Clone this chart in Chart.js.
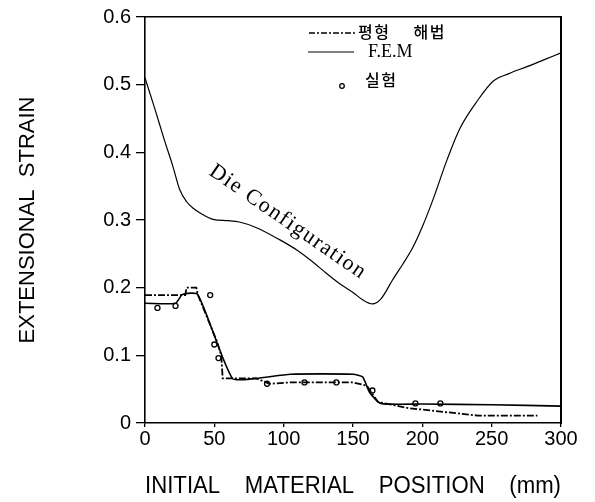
<!DOCTYPE html>
<html>
<head>
<meta charset="utf-8">
<script src="https://cdn.jsdelivr.net/npm/chart.js@4/dist/chart.umd.min.js"></script>
<style>
  html, body { margin: 0; padding: 0; background: #fff; }
  #wrap { width: 595px; height: 502px; }
</style>
</head>
<body>
<div id="wrap"><canvas id="c" width="595" height="502"></canvas></div>
<script>
// die profile (thin solid line)
const dieX = [0, 7, 14, 20, 25, 30, 35, 40, 49, 60, 68, 80, 97, 110, 121, 131, 141, 150, 157, 164, 170, 179, 186, 193, 200, 208, 218, 227, 240, 251, 262, 276, 288, 300];
const dieY = [0.51, 0.465, 0.418, 0.38, 0.345, 0.327, 0.317, 0.31, 0.301, 0.299, 0.297, 0.289, 0.271, 0.255, 0.238, 0.221, 0.205, 0.193, 0.182, 0.176, 0.183, 0.213, 0.235, 0.259, 0.29, 0.332, 0.39, 0.435, 0.477, 0.505, 0.516, 0.527, 0.537, 0.547];

// 평형 해법 (dash-dot)
const eqX = [0, 29, 30, 37, 38, 52, 55, 56, 63, 80, 90, 105, 150, 160, 168, 190, 240, 283];
const eqY = [0.189, 0.189, 0.2, 0.2, 0.19, 0.12, 0.1, 0.066, 0.066, 0.066, 0.058, 0.06, 0.06, 0.055, 0.031, 0.022, 0.011, 0.011];

// F.E.M (solid)
const femX = [0, 22, 27, 38, 63, 80, 105, 150, 157, 162, 170, 200, 250, 300];
const femY = [0.177, 0.177, 0.19, 0.19, 0.066, 0.066, 0.072, 0.072, 0.068, 0.045, 0.029, 0.028, 0.027, 0.025];

// 실험 (open circles)
const expX = [9, 22, 47, 50, 53, 88, 115, 138, 164, 195, 213];
const expY = [0.17, 0.173, 0.189, 0.116, 0.096, 0.058, 0.06, 0.06, 0.048, 0.029, 0.029];

const xTicks = [0, 50, 100, 150, 200, 250, 300];
const yTicks = [0, 0.1, 0.2, 0.3, 0.4, 0.5, 0.6];

const legendNames = ['평형 해법', 'F.E.M', '실험'];

function pts(xs, ys) { return xs.map((x, i) => ({ x: x, y: ys[i] })); }

const overlay = {
  id: 'overlay',
  afterDatasetsDraw(chart) {
    const ctx = chart.ctx;
    const xs = chart.scales.x, ys = chart.scales.y;
    ctx.save();
    // legend
    ctx.strokeStyle = '#000';
    ctx.fillStyle = '#000';
    ctx.lineWidth = 1.6;
    ctx.setLineDash([6, 2, 2, 2]);
    ctx.beginPath(); ctx.moveTo(309, 33); ctx.lineTo(355, 33); ctx.stroke();
    ctx.setLineDash([]);
    ctx.lineWidth = 1.1;
    ctx.beginPath(); ctx.moveTo(308, 52); ctx.lineTo(354, 52); ctx.stroke();
    ctx.beginPath(); ctx.arc(342, 86, 2.3, 0, Math.PI * 2); ctx.lineWidth = 1.3; ctx.stroke();
    ctx.textBaseline = 'middle';
    ctx.font = '500 16px "Noto Sans CJK KR"';
    ctx.wordSpacing = '18px';
    ctx.letterSpacing = '1.5px';
    ctx.fillText(legendNames[0], 358, 32);
    ctx.fillText(legendNames[2], 365, 80);
    ctx.wordSpacing = '0px';
    ctx.letterSpacing = '0px';
    ctx.font = '18px "Liberation Serif"';
    ctx.fillText(legendNames[1], 368, 52);
    // die label
    ctx.translate(xs.getPixelForValue(103), ys.getPixelForValue(0.297));
    ctx.rotate(34.6 * Math.PI / 180);
    ctx.font = '22px "Liberation Serif"';
    ctx.letterSpacing = '1.5px';
    ctx.textAlign = 'center';
    ctx.fillText('Die Configuration', 0, 0);
    ctx.restore();
  }
};

new Chart(document.getElementById('c'), {
  type: 'scatter',
  data: {
    datasets: [
      { label: 'die', data: pts(dieX, dieY), showLine: true, borderColor: '#000', borderWidth: 1.2, pointRadius: 0, cubicInterpolationMode: 'monotone' },
      { label: legendNames[0], data: pts(eqX, eqY), showLine: true, borderColor: '#000', borderWidth: 1.8, borderDash: [7, 2, 2, 2], pointRadius: 0, tension: 0 },
      { label: legendNames[1], data: pts(femX, femY), showLine: true, borderColor: '#000', borderWidth: 1.6, pointRadius: 0, tension: 0.2 },
      { label: legendNames[2], data: pts(expX, expY), showLine: false, borderColor: '#000', backgroundColor: '#fff', borderWidth: 1.3, pointRadius: 2.5 }
    ]
  },
  options: {
    responsive: false,
    animation: false,
    layout: { padding: { top: 13, right: 34, left: 0, bottom: 0 } },
    plugins: { legend: { display: false }, tooltip: { enabled: false } },
    scales: {
      x: {
        type: 'linear', min: 0, max: 300,
        afterBuildTicks: (s) => { s.ticks = xTicks.map(v => ({ value: v })); },
        afterFit: (s) => { s.height = 79; },
        border: { color: '#000', width: 1.6 },
        grid: { drawOnChartArea: false, color: '#000', tickLength: 4, lineWidth: 1.3 },
        ticks: { color: '#000', font: { family: 'Liberation Sans', size: 20 }, padding: 0, maxRotation: 0 },
        title: { display: true, text: 'INITIAL    MATERIAL    POSITION    (mm)', color: '#000', font: { family: 'Liberation Sans', size: 23 }, padding: { top: 0, bottom: 2 } }
      },
      y: {
        type: 'linear', min: 0, max: 0.6,
        afterBuildTicks: (s) => { s.ticks = yTicks.map(v => ({ value: v })); },
        afterFit: (s) => { s.width = 145; },
        border: { color: '#000', width: 1.6 },
        grid: { drawOnChartArea: false, color: '#000', tickLength: 9, lineWidth: 1.3 },
        ticks: { color: '#000', font: { family: 'Liberation Sans', size: 20 }, padding: 5, callback: (v) => v === 0 ? '0' : v.toFixed(1) },
        title: { display: true, text: 'EXTENSIONAL  STRAIN', color: '#000', font: { family: 'Liberation Sans', size: 22 }, padding: { bottom: 0, top: 15 } }
      },
      x2: { type: 'linear', position: 'top', min: 0, max: 300, ticks: { display: false }, grid: { display: false }, border: { color: '#000', width: 1.6 }, afterFit: (s) => { s.height = 0; } },
      y2: { type: 'linear', position: 'right', min: 0, max: 0.6, ticks: { display: false }, grid: { display: false }, border: { color: '#000', width: 2 }, afterFit: (s) => { s.width = 0; } }
    }
  },
  plugins: [overlay]
});
</script>
</body>
</html>
